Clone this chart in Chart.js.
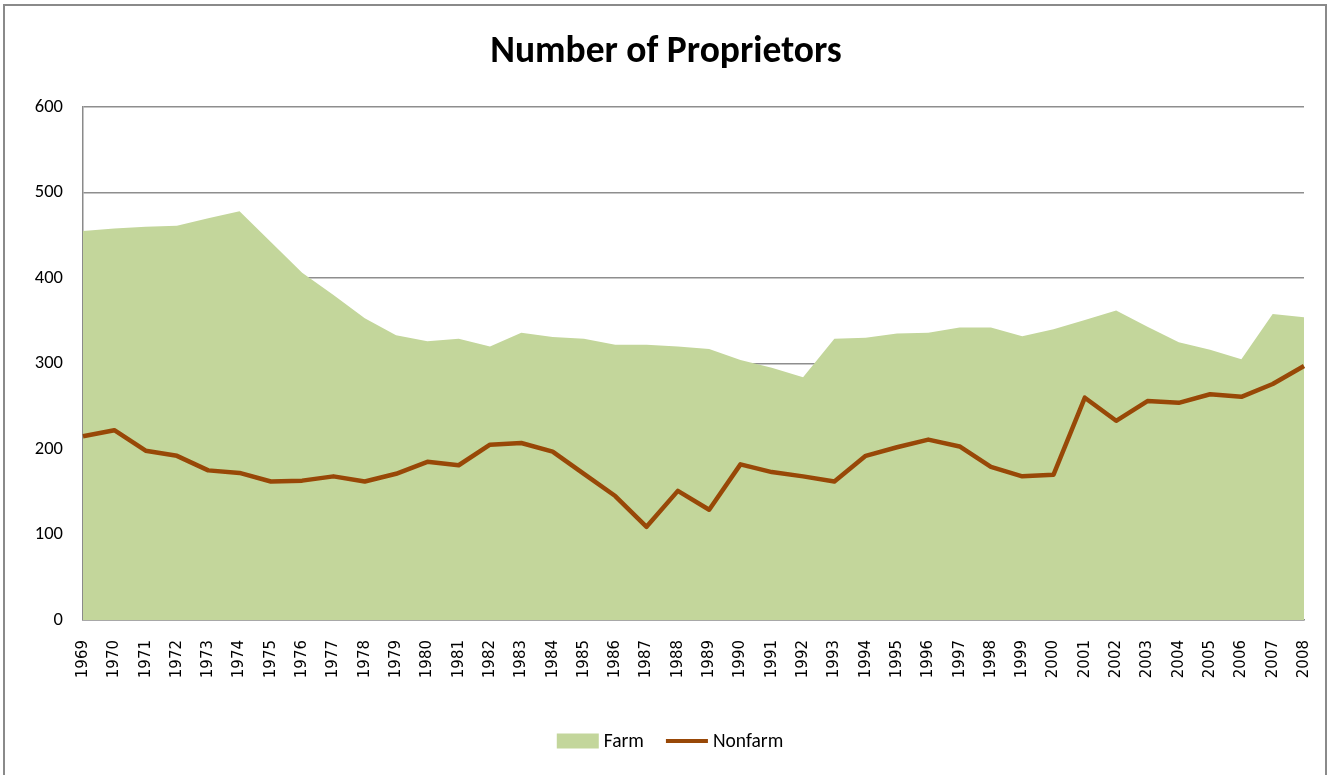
<!DOCTYPE html>
<html>
<head>
<meta charset="utf-8">
<script src="https://cdn.jsdelivr.net/npm/chart.js@4/dist/chart.umd.min.js"></script>
<style>
  html, body { margin: 0; padding: 0; background: #ffffff; }
  #wrap { width: 1332px; height: 775px; position: relative; }
</style>
</head>
<body>
<div id="wrap"><canvas id="c" width="1332" height="775"></canvas></div>
<script>
const years = ["1969","1970","1971","1972","1973","1974","1975","1976","1977","1978",
  "1979","1980","1981","1982","1983","1984","1985","1986","1987","1988",
  "1989","1990","1991","1992","1993","1994","1995","1996","1997","1998",
  "1999","2000","2001","2002","2003","2004","2005","2006","2007","2008"];
const farm = [455,458,460,461,470,478,442,406,380,353,
  333,326,329,320,336,331,329,322,322,320,
  317,304,295,284,329,330,335,336,342,342,
  332,340,351,362,343,325,316,305,358,354];
const nonfarm = [215,222,198,192,175,172,162,163,168,162,
  171,185,181,205,207,197,171,145,109,151,
  129,182,173,168,162,192,202,211,203,179,
  168,170,260,233,256,254,264,261,276,297];
const yTicks = [0,100,200,300,400,500,600];
const legendOrder = ['Farm', 'Nonfarm'];

const FARM_COLOR = '#c3d69b';
const NONFARM_COLOR = '#984807';
const UI_FONT = "Carlito, Lato, sans-serif";

const frame = {
  id: 'frame',
  beforeDraw(chart) {
    const ctx = chart.ctx;
    ctx.save();
    ctx.fillStyle = '#ffffff';
    ctx.fillRect(0, 0, chart.width, chart.height);
    ctx.strokeStyle = '#8a8a8a';
    ctx.lineWidth = 2;
    ctx.strokeRect(4, 5, 1322, 780);
    ctx.restore();
  }
};

// Excel-like legend: filled box for the area series, short line for the line series
const excelLegend = {
  id: 'excelLegend',
  afterDraw(chart) {
    const ctx = chart.ctx;
    ctx.save();
    ctx.font = "19.5px " + UI_FONT;
    ctx.textBaseline = 'middle';
    const symW = 42, gap = 5, itemGap = 22, cy = 741;
    const items = legendOrder.map(name => {
      const ds = chart.data.datasets.find(d => d.label === name);
      return { ds, w: symW + gap + ctx.measureText(name).width };
    });
    const total = items.reduce((s, it) => s + it.w, 0) + itemGap * (items.length - 1);
    let x = chart.width / 2 + 4 - total / 2;
    items.forEach(it => {
      if (it.ds.fill) {
        ctx.fillStyle = it.ds.backgroundColor;
        ctx.fillRect(x, cy - 7.5, symW, 15);
      } else {
        ctx.strokeStyle = it.ds.borderColor;
        ctx.lineWidth = 4;
        ctx.beginPath();
        ctx.moveTo(x, cy);
        ctx.lineTo(x + symW, cy);
        ctx.stroke();
      }
      ctx.fillStyle = '#000000';
      ctx.fillText(it.ds.label, x + symW + gap, cy + 1);
      x += it.w + itemGap;
    });
    ctx.restore();
  }
};

new Chart(document.getElementById('c'), {
  type: 'line',
  data: {
    labels: years,
    datasets: [
      {
        label: 'Nonfarm',
        data: nonfarm,
        borderColor: NONFARM_COLOR,
        backgroundColor: NONFARM_COLOR,
        borderWidth: 4.5,
        pointRadius: 0,
        fill: false,
        tension: 0,
        borderJoinStyle: 'round'
      },
      {
        label: 'Farm',
        data: farm,
        borderColor: FARM_COLOR,
        backgroundColor: FARM_COLOR,
        borderWidth: 0,
        pointRadius: 0,
        fill: 'origin',
        tension: 0
      }
    ]
  },
  options: {
    responsive: false,
    animation: false,
    devicePixelRatio: 1,
    layout: { padding: { left: 0, right: 0, top: 0, bottom: 53 } },
    plugins: {
      title: {
        display: true,
        text: 'Number of Proprietors',
        color: '#000000',
        font: { family: UI_FONT, size: 37.5, weight: 'bold' },
        padding: { top: 30, bottom: 32 }
      },
      legend: { display: false },
      tooltip: { enabled: false }
    },
    scales: {
      x: {
        type: 'category',
        offset: false,
        grid: { display: false, drawTicks: false },
        border: { display: true, color: '#8a8a8a', width: 1.5 },
        ticks: {
          autoSkip: false,
          maxRotation: 90,
          minRotation: 90,
          padding: 20,
          color: '#000000',
          font: { family: "'DejaVu Sans', sans-serif", size: 15 }
        },
        afterFit(scale) {
          scale.height = 102;
          scale.paddingLeft = 0;
          scale.paddingRight = 28;
        }
      },
      y: {
        min: 0,
        max: 600,
        afterBuildTicks(scale) { scale.ticks = yTicks.map(v => ({ value: v })); },
        grid: { color: '#8e8e8e', lineWidth: 1.5, drawTicks: false },
        border: { display: true, color: '#8a8a8a', width: 1.5 },
        ticks: {
          padding: 20,
          color: '#000000',
          font: { family: UI_FONT, size: 18.5 }
        },
        afterFit(scale) { scale.width = 83; }
      }
    }
  },
  plugins: [frame, excelLegend]
});
</script>
</body>
</html>
